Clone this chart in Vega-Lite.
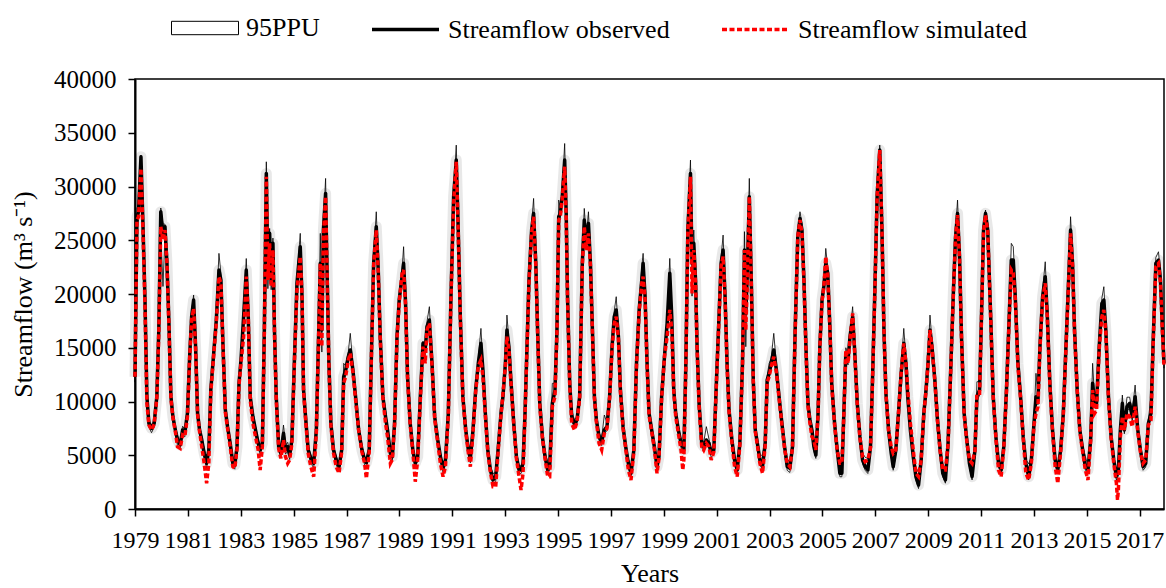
{
"$schema": "https://vega.github.io/schema/vega-lite/v6.json",
"width": 1029, "height": 430,
"autosize": {"type": "none"},
"padding": {"left": 135, "top": 79, "right": 2, "bottom": 79},
"background": "white",
"config": {"view": {"stroke": "black", "strokeWidth": 1.5}, "font": "Liberation Serif",
  "legend": {"orient": "none", "direction": "horizontal", "title": null, "labelOffset": 7, "symbolSize": 4489, "padding": 0,
    "labelLimit": 500, "labelFont": "Liberation Serif", "labelFontSize": 26, "labelColor": "black", "symbolOpacity": 1}},
"data": {"values": [
{"m":0,"o":12300,"s":12300,"u":12900,"l":11800},
{"m":0.9,"o":27190,"s":26880,"u":28000,"l":26300},
{"m":1.6,"o":27650,"s":27190,"u":28300,"l":26900},
{"m":2.7,"o":32770,"s":31680,"u":32900,"l":31500},
{"m":3.6,"o":26570,"s":25950,"u":27200,"l":25800},
{"m":4.5,"o":19750,"s":19130,"u":20300,"l":19000},
{"m":5.4,"o":10450,"s":9830,"u":10900,"l":9700},
{"m":6.3,"o":7970,"s":7810,"u":8300,"l":7600},
{"m":7.5,"o":7500,"s":7350,"u":7800,"l":7100},
{"m":8.7,"o":7970,"s":7900,"u":8300,"l":7600},
{"m":9.9,"o":10450,"s":10300,"u":10900,"l":10000},
{"m":10.8,"o":16650,"s":16400,"u":17200,"l":16000},
{"m":11.7,"o":27650,"s":26260,"u":28000,"l":26000},
{"m":12.7,"o":25500,"s":25000,"u":26500,"l":20700},
{"m":13.6,"o":26260,"s":25950,"u":26500,"l":25500},
{"m":14.5,"o":22850,"s":22850,"u":23400,"l":22300},
{"m":15.4,"o":17270,"s":17000,"u":17800,"l":16800},
{"m":16.3,"o":10450,"s":10300,"u":10900,"l":10000},
{"m":17.2,"o":8590,"s":8500,"u":8900,"l":8200},
{"m":18.3,"o":7350,"s":7200,"u":7700,"l":7000},
{"m":19.3,"o":6420,"s":5800,"u":6800,"l":5900},
{"m":20.5,"o":5950,"s":5640,"u":6300,"l":5600},
{"m":21.6,"o":7350,"s":6880,"u":7700,"l":6900},
{"m":22.6,"o":7040,"s":6730,"u":7400,"l":6700},
{"m":23.8,"o":8900,"s":8590,"u":9300,"l":8500},
{"m":24.8,"o":14170,"s":14000,"u":14700,"l":13700},
{"m":25.7,"o":17890,"s":17600,"u":18400,"l":17300},
{"m":26.6,"o":19440,"s":18660,"u":19900,"l":18800},
{"m":27.5,"o":15100,"s":14900,"u":15600,"l":14600},
{"m":28.4,"o":8900,"s":8800,"u":9300,"l":8500},
{"m":29.3,"o":7350,"s":7190,"u":7700,"l":7000},
{"m":30.3,"o":6420,"s":5800,"u":6800,"l":6000},
{"m":31.4,"o":5180,"s":4250,"u":5600,"l":4800},
{"m":32.5,"o":4250,"s":2400,"u":4700,"l":3800},
{"m":33.5,"o":5490,"s":4250,"u":5900,"l":5100},
{"m":34.4,"o":11070,"s":10800,"u":11500,"l":10600},
{"m":35.6,"o":14170,"s":14000,"u":14600,"l":13700},
{"m":36.9,"o":17580,"s":17300,"u":18100,"l":17000},
{"m":38.1,"o":22230,"s":21610,"u":23780,"l":21500},
{"m":39.0,"o":21300,"s":21000,"u":21900,"l":20700},
{"m":39.9,"o":15410,"s":15200,"u":15900,"l":14900},
{"m":41.0,"o":9210,"s":9000,"u":9600,"l":8800},
{"m":42.0,"o":7660,"s":7500,"u":8000,"l":7300},
{"m":43.2,"o":6110,"s":5800,"u":6500,"l":5800},
{"m":44.4,"o":4250,"s":3940,"u":4700,"l":3900},
{"m":45.3,"o":4090,"s":3780,"u":4500,"l":3700},
{"m":46.3,"o":5800,"s":5600,"u":6200,"l":5400},
{"m":47.2,"o":11690,"s":11500,"u":12100,"l":11200},
{"m":48.1,"o":13860,"s":13550,"u":14300,"l":13400},
{"m":49.3,"o":17890,"s":16030,"u":18400,"l":17300},
{"m":50.5,"o":22230,"s":21610,"u":23300,"l":21600},
{"m":51.4,"o":17890,"s":17890,"u":18400,"l":17300},
{"m":52.3,"o":10450,"s":10140,"u":10900,"l":10000},
{"m":53.5,"o":8590,"s":7970,"u":9000,"l":8200},
{"m":54.7,"o":7350,"s":6730,"u":7700,"l":7000},
{"m":55.9,"o":6110,"s":5490,"u":6500,"l":5700},
{"m":56.8,"o":5490,"s":3630,"u":5900,"l":5100},
{"m":57.8,"o":6110,"s":5800,"u":6500,"l":5700},
{"m":58.7,"o":16650,"s":16400,"u":17200,"l":16000},
{"m":59.6,"o":31220,"s":30910,"u":32300,"l":30500},
{"m":60.3,"o":22230,"s":21300,"u":23000,"l":20500},
{"m":61.1,"o":25640,"s":24710,"u":26100,"l":25000},
{"m":61.8,"o":20990,"s":20680,"u":21600,"l":20400},
{"m":62.6,"o":24710,"s":24090,"u":25200,"l":24100},
{"m":63.3,"o":16650,"s":16400,"u":17200,"l":16100},
{"m":64.1,"o":10450,"s":10200,"u":10900,"l":10000},
{"m":65.2,"o":5800,"s":5600,"u":6200,"l":5400},
{"m":66.2,"o":5180,"s":4710,"u":5600,"l":4800},
{"m":67.4,"o":7040,"s":6420,"u":7810,"l":6700},
{"m":68.3,"o":5490,"s":4870,"u":5900,"l":5100},
{"m":69.3,"o":5800,"s":4250,"u":6200,"l":5400},
{"m":70.2,"o":5020,"s":4560,"u":5400,"l":4600},
{"m":71.2,"o":6420,"s":6110,"u":6800,"l":6000},
{"m":72.3,"o":13550,"s":13300,"u":14000,"l":13100},
{"m":73.5,"o":20990,"s":20370,"u":21500,"l":20400},
{"m":75.0,"o":24400,"s":23470,"u":25640,"l":23800},
{"m":75.8,"o":19750,"s":19750,"u":20300,"l":19200},
{"m":76.5,"o":11070,"s":10900,"u":11500,"l":10600},
{"m":77.4,"o":8590,"s":8400,"u":8900,"l":8200},
{"m":78.6,"o":5490,"s":5180,"u":5900,"l":5100},
{"m":79.8,"o":4710,"s":3940,"u":5000,"l":4300},
{"m":81.1,"o":4250,"s":3010,"u":4600,"l":3800},
{"m":82.3,"o":7350,"s":7100,"u":7700,"l":6900},
{"m":83.2,"o":15100,"s":14800,"u":15600,"l":14600},
{"m":84.1,"o":22850,"s":22850,"u":25640,"l":22300},
{"m":84.8,"o":16650,"s":15100,"u":17200,"l":14600},
{"m":85.5,"o":25950,"s":25330,"u":26500,"l":25300},
{"m":86.5,"o":29360,"s":29050,"u":30750,"l":28700},
{"m":87.1,"o":22850,"s":22850,"u":23400,"l":22300},
{"m":88.0,"o":13550,"s":13400,"u":14000,"l":13100},
{"m":88.9,"o":7970,"s":7800,"u":8300,"l":7600},
{"m":90.1,"o":5490,"s":5180,"u":5900,"l":5100},
{"m":91.3,"o":4560,"s":3940,"u":4900,"l":4100},
{"m":92.6,"o":3940,"s":3320,"u":4300,"l":3500},
{"m":93.8,"o":5490,"s":5300,"u":5900,"l":5100},
{"m":94.7,"o":12310,"s":11690,"u":13550,"l":11900},
{"m":95.6,"o":12930,"s":12310,"u":13300,"l":12400},
{"m":96.8,"o":14170,"s":13860,"u":14600,"l":13700},
{"m":97.7,"o":14790,"s":14480,"u":16340,"l":14300},
{"m":98.9,"o":12930,"s":12700,"u":13400,"l":12400},
{"m":100.1,"o":10450,"s":10200,"u":10900,"l":10000},
{"m":101.5,"o":7350,"s":7350,"u":7700,"l":7000},
{"m":103.0,"o":5490,"s":5300,"u":5900,"l":5100},
{"m":104.2,"o":4560,"s":4250,"u":4900,"l":4100},
{"m":105.0,"o":4300,"s":2850,"u":4700,"l":3900},
{"m":106.3,"o":5490,"s":5300,"u":5900,"l":5100},
{"m":107.2,"o":13550,"s":13300,"u":14000,"l":13100},
{"m":108.3,"o":22850,"s":22600,"u":23400,"l":22300},
{"m":109.5,"o":26260,"s":25950,"u":27650,"l":25600},
{"m":110.4,"o":22230,"s":22000,"u":22800,"l":21700},
{"m":111.3,"o":16030,"s":15800,"u":16500,"l":15600},
{"m":112.5,"o":10450,"s":10300,"u":10900,"l":10000},
{"m":113.7,"o":8590,"s":7970,"u":9200,"l":8200},
{"m":114.6,"o":7350,"s":6730,"u":7700,"l":7000},
{"m":115.9,"o":5180,"s":4250,"u":5600,"l":4800},
{"m":116.8,"o":4870,"s":4600,"u":5300,"l":4500},
{"m":117.8,"o":7970,"s":7800,"u":8300,"l":7600},
{"m":118.9,"o":16030,"s":15800,"u":16500,"l":15600},
{"m":119.9,"o":19440,"s":19130,"u":19900,"l":19000},
{"m":121.2,"o":21610,"s":21920,"u":22200,"l":21100},
{"m":121.9,"o":22850,"s":22230,"u":24400,"l":22300},
{"m":122.8,"o":19130,"s":18900,"u":19600,"l":18700},
{"m":123.7,"o":12310,"s":12100,"u":12800,"l":11900},
{"m":124.9,"o":7970,"s":7800,"u":8300,"l":7600},
{"m":126.1,"o":5490,"s":5300,"u":5900,"l":5100},
{"m":127.2,"o":4250,"s":2540,"u":4600,"l":3900},
{"m":128.3,"o":4870,"s":4600,"u":5300,"l":4500},
{"m":129.5,"o":10450,"s":10200,"u":10900,"l":10000},
{"m":130.7,"o":15410,"s":15100,"u":15600,"l":14900},
{"m":131.7,"o":14790,"s":13550,"u":15200,"l":14300},
{"m":132.5,"o":16960,"s":16650,"u":17400,"l":16500},
{"m":133.6,"o":17580,"s":17270,"u":18820,"l":17100},
{"m":134.8,"o":13550,"s":13300,"u":14000,"l":13100},
{"m":136.0,"o":8590,"s":8400,"u":8900,"l":8200},
{"m":137.4,"o":6420,"s":6110,"u":6800,"l":6000},
{"m":138.6,"o":4870,"s":4250,"u":5200,"l":4500},
{"m":139.8,"o":3780,"s":3010,"u":4100,"l":3400},
{"m":140.9,"o":4560,"s":3940,"u":4900,"l":4200},
{"m":142.2,"o":8900,"s":8700,"u":9300,"l":8500},
{"m":143.4,"o":19750,"s":19500,"u":20300,"l":19200},
{"m":144.6,"o":29050,"s":28430,"u":29600,"l":28400},
{"m":145.8,"o":32460,"s":32300,"u":33850,"l":31900},
{"m":146.7,"o":25950,"s":25700,"u":26500,"l":25400},
{"m":147.6,"o":18200,"s":18000,"u":18700,"l":17700},
{"m":148.8,"o":10450,"s":10300,"u":10900,"l":10000},
{"m":150.1,"o":7350,"s":7200,"u":7700,"l":7000},
{"m":151.3,"o":5490,"s":5180,"u":5900,"l":5100},
{"m":152.2,"o":4710,"s":3940,"u":5000,"l":4300},
{"m":153.4,"o":7350,"s":7100,"u":7700,"l":7000},
{"m":154.6,"o":11070,"s":10900,"u":11500,"l":10600},
{"m":155.8,"o":13550,"s":13300,"u":14000,"l":13100},
{"m":157.0,"o":15410,"s":13860,"u":16800,"l":14900},
{"m":157.9,"o":12930,"s":12310,"u":13400,"l":12400},
{"m":159.0,"o":8900,"s":8700,"u":9300,"l":8500},
{"m":160.1,"o":5490,"s":5300,"u":5900,"l":5100},
{"m":161.3,"o":3630,"s":3400,"u":4000,"l":3300},
{"m":162.5,"o":2700,"s":2080,"u":3300,"l":2300},
{"m":163.7,"o":3010,"s":2080,"u":3400,"l":2600},
{"m":164.9,"o":5800,"s":5600,"u":6200,"l":5400},
{"m":166.1,"o":8900,"s":8700,"u":9300,"l":8500},
{"m":167.0,"o":10450,"s":10760,"u":11000,"l":10000},
{"m":168.1,"o":13550,"s":13300,"u":14000,"l":13100},
{"m":168.8,"o":16650,"s":16030,"u":18040,"l":16100},
{"m":169.7,"o":15100,"s":14790,"u":15600,"l":14600},
{"m":170.6,"o":12000,"s":11800,"u":12400,"l":11600},
{"m":171.9,"o":7970,"s":7800,"u":8300,"l":7600},
{"m":173.1,"o":4870,"s":4700,"u":5300,"l":4500},
{"m":174.3,"o":3630,"s":3010,"u":4000,"l":3300},
{"m":175.2,"o":3630,"s":1770,"u":4000,"l":3300},
{"m":176.1,"o":4250,"s":3320,"u":4600,"l":3900},
{"m":177.0,"o":8900,"s":8700,"u":9300,"l":8500},
{"m":177.9,"o":15100,"s":14900,"u":15600,"l":14600},
{"m":178.8,"o":21300,"s":21000,"u":21800,"l":20800},
{"m":180.0,"o":25950,"s":25700,"u":26500,"l":25400},
{"m":180.9,"o":27500,"s":27190,"u":28890,"l":27000},
{"m":181.9,"o":22850,"s":22600,"u":23400,"l":22300},
{"m":182.8,"o":16030,"s":15800,"u":16500,"l":15600},
{"m":183.7,"o":9830,"s":9600,"u":10200,"l":9400},
{"m":184.9,"o":6730,"s":6600,"u":7100,"l":6400},
{"m":186.1,"o":4870,"s":4700,"u":5300,"l":4500},
{"m":187.3,"o":3630,"s":3010,"u":4400,"l":3300},
{"m":188.2,"o":3940,"s":3010,"u":4300,"l":3600},
{"m":189.4,"o":9830,"s":9520,"u":11690,"l":9400},
{"m":190.6,"o":11070,"s":10450,"u":11690,"l":10600},
{"m":191.5,"o":16650,"s":16400,"u":17200,"l":16100},
{"m":192.3,"o":27190,"s":26880,"u":28740,"l":26700},
{"m":193.0,"o":27500,"s":27190,"u":28000,"l":27000},
{"m":193.9,"o":29050,"s":28800,"u":29600,"l":28500},
{"m":195.0,"o":32460,"s":31840,"u":34000,"l":31900},
{"m":195.7,"o":27500,"s":26880,"u":28000,"l":27000},
{"m":196.3,"o":19750,"s":19500,"u":20300,"l":19200},
{"m":197.3,"o":11690,"s":11500,"u":12100,"l":11200},
{"m":198.2,"o":8590,"s":7970,"u":9200,"l":8200},
{"m":199.4,"o":7970,"s":7350,"u":8300,"l":7600},
{"m":200.6,"o":8280,"s":8100,"u":8600,"l":7900},
{"m":201.8,"o":10450,"s":10300,"u":10900,"l":10000},
{"m":203.0,"o":22850,"s":22600,"u":23400,"l":22300},
{"m":203.9,"o":26880,"s":26260,"u":27960,"l":26300},
{"m":204.8,"o":24710,"s":24090,"u":25200,"l":24100},
{"m":205.8,"o":26570,"s":25640,"u":27650,"l":25900},
{"m":206.7,"o":22850,"s":22600,"u":23400,"l":22300},
{"m":207.6,"o":16650,"s":16400,"u":17200,"l":16100},
{"m":208.5,"o":10450,"s":10300,"u":10900,"l":10000},
{"m":209.4,"o":8280,"s":8100,"u":8600,"l":7900},
{"m":210.6,"o":6730,"s":6110,"u":7100,"l":6400},
{"m":211.8,"o":6260,"s":5490,"u":6600,"l":5900},
{"m":213.0,"o":7350,"s":7040,"u":8740,"l":7000},
{"m":214.2,"o":7660,"s":7500,"u":8000,"l":7300},
{"m":215.4,"o":10450,"s":10300,"u":10900,"l":10000},
{"m":216.5,"o":15100,"s":14900,"u":15600,"l":14600},
{"m":217.5,"o":17890,"s":17270,"u":18400,"l":17300},
{"m":218.4,"o":18510,"s":17890,"u":19750,"l":18000},
{"m":219.4,"o":16030,"s":15800,"u":16500,"l":15600},
{"m":220.3,"o":11070,"s":10900,"u":11500,"l":10600},
{"m":221.5,"o":7660,"s":7500,"u":8000,"l":7300},
{"m":222.7,"o":5800,"s":5600,"u":6200,"l":5400},
{"m":223.9,"o":4250,"s":3630,"u":4700,"l":3900},
{"m":225.1,"o":3320,"s":2700,"u":3700,"l":3000},
{"m":226.4,"o":5490,"s":5300,"u":5900,"l":5100},
{"m":227.6,"o":13550,"s":13300,"u":14000,"l":13100},
{"m":228.8,"o":18510,"s":18300,"u":19000,"l":18000},
{"m":230.0,"o":21300,"s":20990,"u":22500,"l":20800},
{"m":230.6,"o":22850,"s":21610,"u":23780,"l":21500},
{"m":231.5,"o":19750,"s":19500,"u":20300,"l":19200},
{"m":232.4,"o":13550,"s":13300,"u":14000,"l":13100},
{"m":233.3,"o":8900,"s":8700,"u":9300,"l":8500},
{"m":234.5,"o":7350,"s":7200,"u":7700,"l":7000},
{"m":235.7,"o":5800,"s":5600,"u":6200,"l":5400},
{"m":236.9,"o":3940,"s":3320,"u":4300,"l":3600},
{"m":237.8,"o":4870,"s":4700,"u":5300,"l":4500},
{"m":239.0,"o":10450,"s":10300,"u":10900,"l":10000},
{"m":240.3,"o":14170,"s":14170,"u":14600,"l":13700},
{"m":241.5,"o":17270,"s":16030,"u":17800,"l":16800},
{"m":242.7,"o":21920,"s":18510,"u":23310,"l":18200},
{"m":243.6,"o":17890,"s":16650,"u":18400,"l":16400},
{"m":244.5,"o":11070,"s":10900,"u":11500,"l":10600},
{"m":245.4,"o":8900,"s":8590,"u":9300,"l":8500},
{"m":246.6,"o":7350,"s":7040,"u":7700,"l":7000},
{"m":247.8,"o":6110,"s":5490,"u":6500,"l":5700},
{"m":248.6,"o":5800,"s":3630,"u":6200,"l":5400},
{"m":249.1,"o":5490,"s":4560,"u":5900,"l":5100},
{"m":250.0,"o":13550,"s":13300,"u":14000,"l":13100},
{"m":250.9,"o":25950,"s":25700,"u":26500,"l":25400},
{"m":252.1,"o":31220,"s":30910,"u":32460,"l":30700},
{"m":252.8,"o":22850,"s":20060,"u":23400,"l":19800},
{"m":253.6,"o":24710,"s":24090,"u":25950,"l":24100},
{"m":254.4,"o":21300,"s":21000,"u":21800,"l":20800},
{"m":255.1,"o":15100,"s":14900,"u":15600,"l":14600},
{"m":256.0,"o":9830,"s":9600,"u":10200,"l":9400},
{"m":257.2,"o":6110,"s":5800,"u":6500,"l":5700},
{"m":258.1,"o":5800,"s":5490,"u":6200,"l":5400},
{"m":259.3,"o":6420,"s":6110,"u":7660,"l":6000},
{"m":260.5,"o":6110,"s":5800,"u":6500,"l":5700},
{"m":261.5,"o":5180,"s":4560,"u":5600,"l":4800},
{"m":262.7,"o":5490,"s":5300,"u":5900,"l":5100},
{"m":263.9,"o":12000,"s":11800,"u":12400,"l":11600},
{"m":265.1,"o":18200,"s":18000,"u":18700,"l":17700},
{"m":266.0,"o":22850,"s":22600,"u":23400,"l":22300},
{"m":266.9,"o":24090,"s":23470,"u":25480,"l":23500},
{"m":267.8,"o":19750,"s":19500,"u":20300,"l":19200},
{"m":268.7,"o":13550,"s":13300,"u":14000,"l":13100},
{"m":269.6,"o":9210,"s":9000,"u":9600,"l":8800},
{"m":270.9,"o":6420,"s":6200,"u":6800,"l":6000},
{"m":272.1,"o":4560,"s":3940,"u":5000,"l":4200},
{"m":273.3,"o":3630,"s":3010,"u":4000,"l":3300},
{"m":274.5,"o":6110,"s":5900,"u":6500,"l":5700},
{"m":275.7,"o":13550,"s":13300,"u":14000,"l":13100},
{"m":276.6,"o":24090,"s":24090,"u":25800,"l":23500},
{"m":277.2,"o":18200,"s":16650,"u":18700,"l":15100},
{"m":277.8,"o":21300,"s":20370,"u":21800,"l":20300},
{"m":278.8,"o":29050,"s":29050,"u":30750,"l":28500},
{"m":279.7,"o":21300,"s":21000,"u":21800,"l":20800},
{"m":280.6,"o":12000,"s":11800,"u":12400,"l":11600},
{"m":281.5,"o":7350,"s":7200,"u":7700,"l":7000},
{"m":282.7,"o":5800,"s":5600,"u":6200,"l":5400},
{"m":283.6,"o":4560,"s":4250,"u":5000,"l":4200},
{"m":284.8,"o":3940,"s":3320,"u":5000,"l":3600},
{"m":286.0,"o":6110,"s":5900,"u":6500,"l":5700},
{"m":286.9,"o":12000,"s":11800,"u":12400,"l":11600},
{"m":287.8,"o":12620,"s":12310,"u":13550,"l":12200},
{"m":288.7,"o":13550,"s":13240,"u":14000,"l":13100},
{"m":289.9,"o":14790,"s":14170,"u":16340,"l":14300},
{"m":291.1,"o":12930,"s":12700,"u":13400,"l":12400},
{"m":292.3,"o":10450,"s":10300,"u":10900,"l":10000},
{"m":293.6,"o":7970,"s":7800,"u":8300,"l":7600},
{"m":294.8,"o":5800,"s":5600,"u":6200,"l":5400},
{"m":296.0,"o":3940,"s":4250,"u":4700,"l":3600},
{"m":297.2,"o":3780,"s":3940,"u":4300,"l":3400},
{"m":298.4,"o":5800,"s":5700,"u":6200,"l":5400},
{"m":299.6,"o":16650,"s":16400,"u":17200,"l":16100},
{"m":300.8,"o":25330,"s":25330,"u":25900,"l":24800},
{"m":301.8,"o":27030,"s":26880,"u":27650,"l":26500},
{"m":302.7,"o":25950,"s":25640,"u":26500,"l":25400},
{"m":303.6,"o":21300,"s":21000,"u":21800,"l":20800},
{"m":304.5,"o":15100,"s":14900,"u":15600,"l":14600},
{"m":305.4,"o":9830,"s":9600,"u":10200,"l":9400},
{"m":306.3,"o":8280,"s":7970,"u":8900,"l":7900},
{"m":307.2,"o":7350,"s":6730,"u":7700,"l":7000},
{"m":308.1,"o":5800,"s":6420,"u":6600,"l":5400},
{"m":309.0,"o":5020,"s":5490,"u":5800,"l":4700},
{"m":310.0,"o":8900,"s":8800,"u":9300,"l":8500},
{"m":310.8,"o":15100,"s":15000,"u":15600,"l":14600},
{"m":311.8,"o":19440,"s":19300,"u":19900,"l":19000},
{"m":312.6,"o":20680,"s":20600,"u":21200,"l":20200},
{"m":313.5,"o":22850,"s":23470,"u":24240,"l":22300},
{"m":314.4,"o":21920,"s":21700,"u":22400,"l":21400},
{"m":315.3,"o":17270,"s":17100,"u":17800,"l":16800},
{"m":316.2,"o":11690,"s":11500,"u":12100,"l":11200},
{"m":317.5,"o":7970,"s":7800,"u":8300,"l":7600},
{"m":318.7,"o":5490,"s":5400,"u":5900,"l":5100},
{"m":319.9,"o":3320,"s":4250,"u":4500,"l":3000},
{"m":320.8,"o":3320,"s":4250,"u":4500,"l":3000},
{"m":321.7,"o":8900,"s":8800,"u":9300,"l":8500},
{"m":322.6,"o":14480,"s":14790,"u":15000,"l":14000},
{"m":323.6,"o":13860,"s":13550,"u":14300,"l":13400},
{"m":324.5,"o":16030,"s":15720,"u":16500,"l":15600},
{"m":325.7,"o":17890,"s":18200,"u":18820,"l":17400},
{"m":326.6,"o":14790,"s":14600,"u":15200,"l":14300},
{"m":327.8,"o":9830,"s":9700,"u":10200,"l":9400},
{"m":329.0,"o":6730,"s":6600,"u":7100,"l":6400},
{"m":330.2,"o":4560,"s":4870,"u":5200,"l":4200},
{"m":331.4,"o":3940,"s":4400,"u":4800,"l":3600},
{"m":332.6,"o":3630,"s":4560,"u":4700,"l":3300},
{"m":333.8,"o":5800,"s":5700,"u":6200,"l":5400},
{"m":334.7,"o":12000,"s":11800,"u":12400,"l":11600},
{"m":335.7,"o":19750,"s":19600,"u":20300,"l":19200},
{"m":336.8,"o":29050,"s":29000,"u":29600,"l":28500},
{"m":338.0,"o":33390,"s":33390,"u":33850,"l":32900},
{"m":339.0,"o":25950,"s":25900,"u":26500,"l":25400},
{"m":339.9,"o":16650,"s":16600,"u":17200,"l":16100},
{"m":340.8,"o":10760,"s":10700,"u":11200,"l":10300},
{"m":342.0,"o":7350,"s":7300,"u":7700,"l":7000},
{"m":343.2,"o":5180,"s":5800,"u":6000,"l":4800},
{"m":344.1,"o":3940,"s":5180,"u":5300,"l":3600},
{"m":345.3,"o":5490,"s":5500,"u":5900,"l":5100},
{"m":346.5,"o":8900,"s":8900,"u":9300,"l":8500},
{"m":347.7,"o":12620,"s":12600,"u":13100,"l":12200},
{"m":348.9,"o":15410,"s":15410,"u":16800,"l":14900},
{"m":349.9,"o":13550,"s":13500,"u":14000,"l":13100},
{"m":350.7,"o":10450,"s":11070,"u":11300,"l":10000},
{"m":351.9,"o":7350,"s":7970,"u":8200,"l":7000},
{"m":353.2,"o":4870,"s":5490,"u":5700,"l":4500},
{"m":354.4,"o":3010,"s":3320,"u":3900,"l":2700},
{"m":355.6,"o":2230,"s":3010,"u":3400,"l":1900},
{"m":356.8,"o":4560,"s":4600,"u":5000,"l":4200},
{"m":358.0,"o":8900,"s":8900,"u":9300,"l":8500},
{"m":359.0,"o":11070,"s":11000,"u":11500,"l":10600},
{"m":359.9,"o":13550,"s":13500,"u":14000,"l":13100},
{"m":360.8,"o":16650,"s":16650,"u":18040,"l":16100},
{"m":361.7,"o":15100,"s":15000,"u":15600,"l":14600},
{"m":363.0,"o":12000,"s":11900,"u":12400,"l":11600},
{"m":364.2,"o":8280,"s":8200,"u":8600,"l":7900},
{"m":365.4,"o":5490,"s":5400,"u":5900,"l":5100},
{"m":366.6,"o":3320,"s":3630,"u":4200,"l":3000},
{"m":367.8,"o":2700,"s":3630,"u":3800,"l":2400},
{"m":369.0,"o":6110,"s":6000,"u":6500,"l":5700},
{"m":370.3,"o":13550,"s":13400,"u":14000,"l":13100},
{"m":371.5,"o":20680,"s":20500,"u":21200,"l":20200},
{"m":372.4,"o":25330,"s":25200,"u":25900,"l":24800},
{"m":373.3,"o":27500,"s":27340,"u":28740,"l":27000},
{"m":374.2,"o":23470,"s":23300,"u":24000,"l":23000},
{"m":375.1,"o":16030,"s":15900,"u":16500,"l":15600},
{"m":376.3,"o":8900,"s":8800,"u":9300,"l":8500},
{"m":377.5,"o":6420,"s":6300,"u":6800,"l":6000},
{"m":378.7,"o":4250,"s":4560,"u":4900,"l":3900},
{"m":379.9,"o":3010,"s":4250,"u":4400,"l":2700},
{"m":381.2,"o":5490,"s":5400,"u":5900,"l":5100},
{"m":382.1,"o":10450,"s":10760,"u":11840,"l":10000},
{"m":383.3,"o":11070,"s":10760,"u":11840,"l":10600},
{"m":384.2,"o":18200,"s":18000,"u":18700,"l":17700},
{"m":385.1,"o":25950,"s":25800,"u":26500,"l":25400},
{"m":386.0,"o":27500,"s":27340,"u":27810,"l":27000},
{"m":387.0,"o":25950,"s":25800,"u":26500,"l":25400},
{"m":388.3,"o":18200,"s":18000,"u":18700,"l":17700},
{"m":389.5,"o":10450,"s":10300,"u":10900,"l":10000},
{"m":390.7,"o":6730,"s":6600,"u":7100,"l":6400},
{"m":391.9,"o":4250,"s":3630,"u":4600,"l":3900},
{"m":393.1,"o":3630,"s":3010,"u":4000,"l":3300},
{"m":394.3,"o":5800,"s":5700,"u":6200,"l":5400},
{"m":395.5,"o":11070,"s":10900,"u":11500,"l":10600},
{"m":396.8,"o":18200,"s":18000,"u":18700,"l":17700},
{"m":397.7,"o":23160,"s":22230,"u":24710,"l":22500},
{"m":398.6,"o":23160,"s":21920,"u":24400,"l":22500},
{"m":399.5,"o":19750,"s":19500,"u":20300,"l":19200},
{"m":400.7,"o":13550,"s":13300,"u":14000,"l":13100},
{"m":401.9,"o":10450,"s":10300,"u":10900,"l":10000},
{"m":403.1,"o":6730,"s":6600,"u":7100,"l":6400},
{"m":404.3,"o":4250,"s":3320,"u":4600,"l":3900},
{"m":405.6,"o":3010,"s":2700,"u":4200,"l":2700},
{"m":406.8,"o":4560,"s":4250,"u":4900,"l":4200},
{"m":408.0,"o":7970,"s":7800,"u":8300,"l":7600},
{"m":408.9,"o":10450,"s":8900,"u":12620,"l":10000},
{"m":409.8,"o":10140,"s":9520,"u":10600,"l":9700},
{"m":410.7,"o":15100,"s":14900,"u":15600,"l":14600},
{"m":411.9,"o":19750,"s":19500,"u":20300,"l":19200},
{"m":413.1,"o":21610,"s":20990,"u":23000,"l":21000},
{"m":414.0,"o":18200,"s":18000,"u":18700,"l":17700},
{"m":415.2,"o":11690,"s":11500,"u":12100,"l":11200},
{"m":416.4,"o":7350,"s":7200,"u":7700,"l":7000},
{"m":417.6,"o":4560,"s":3940,"u":5000,"l":4200},
{"m":418.8,"o":3630,"s":2400,"u":4000,"l":3300},
{"m":420.1,"o":5490,"s":5300,"u":5900,"l":5100},
{"m":421.3,"o":8900,"s":8700,"u":9300,"l":8500},
{"m":422.5,"o":15100,"s":14900,"u":15600,"l":14600},
{"m":423.7,"o":21300,"s":21000,"u":21800,"l":20800},
{"m":424.6,"o":25950,"s":25640,"u":27190,"l":25400},
{"m":425.5,"o":22850,"s":22600,"u":23400,"l":22300},
{"m":426.4,"o":16650,"s":16400,"u":17200,"l":16100},
{"m":427.6,"o":11070,"s":11070,"u":12300,"l":10600},
{"m":428.8,"o":7350,"s":7200,"u":7700,"l":7000},
{"m":430.1,"o":5490,"s":5300,"u":5900,"l":5100},
{"m":431.3,"o":3940,"s":3630,"u":4900,"l":3600},
{"m":432.5,"o":3630,"s":2700,"u":4000,"l":3300},
{"m":433.7,"o":6420,"s":6300,"u":6800,"l":6000},
{"m":434.6,"o":11690,"s":11070,"u":13550,"l":11200},
{"m":435.5,"o":9830,"s":8900,"u":10300,"l":9400},
{"m":436.4,"o":9830,"s":9210,"u":10300,"l":9400},
{"m":437.6,"o":15100,"s":14900,"u":15600,"l":14600},
{"m":438.8,"o":19130,"s":17890,"u":19600,"l":18600},
{"m":439.7,"o":19440,"s":18510,"u":20680,"l":18900},
{"m":440.6,"o":16650,"s":16400,"u":17200,"l":16100},
{"m":441.8,"o":10450,"s":10300,"u":10900,"l":10000},
{"m":443.0,"o":6730,"s":6600,"u":7100,"l":6400},
{"m":444.2,"o":4560,"s":4250,"u":4900,"l":4200},
{"m":445.4,"o":3010,"s":2390,"u":3400,"l":2700},
{"m":445.9,"o":3300,"s":840,"u":3700,"l":2900},
{"m":446.3,"o":3630,"s":1770,"u":4000,"l":3300},
{"m":447.2,"o":7350,"s":6730,"u":7700,"l":7000},
{"m":448.1,"o":9830,"s":8590,"u":10600,"l":9400},
{"m":449.0,"o":7350,"s":7350,"u":7700,"l":7000},
{"m":450.2,"o":9520,"s":8900,"u":10400,"l":9100},
{"m":451.4,"o":9830,"s":8590,"u":10400,"l":9400},
{"m":452.6,"o":8590,"s":7660,"u":9000,"l":8200},
{"m":453.9,"o":10450,"s":9520,"u":11530,"l":10000},
{"m":455.1,"o":7350,"s":7200,"u":7700,"l":7000},
{"m":456.3,"o":5490,"s":5300,"u":5900,"l":5100},
{"m":457.5,"o":3940,"s":4250,"u":4600,"l":3600},
{"m":458.7,"o":4250,"s":4560,"u":4800,"l":3900},
{"m":459.9,"o":7970,"s":7800,"u":8300,"l":7600},
{"m":461.1,"o":8900,"s":8280,"u":10450,"l":8500},
{"m":462.0,"o":15100,"s":14900,"u":15600,"l":14600},
{"m":463.3,"o":22850,"s":22540,"u":23400,"l":22300},
{"m":464.5,"o":23160,"s":22850,"u":23930,"l":22600},
{"m":465.4,"o":21300,"s":21000,"u":21800,"l":20800},
{"m":466.3,"o":16650,"s":16400,"u":17200,"l":16100},
{"m":467.0,"o":13550,"s":13300,"u":14000,"l":13100}
]},
"encoding": {
  "x": {"field": "m", "type": "quantitative",
    "scale": {"domain": [0, 467], "nice": false, "zero": false},
    "axis": {"title": "Years", "values": [0,24,48,72,96,120,144,168,192,216,240,264,288,312,336,360,384,408,432,456],
      "labelExpr": "1979 + datum.value/12", "grid": false, "domainColor": "black", "domainWidth": 2,
      "tickColor": "black", "tickSize": 7, "tickWidth": 1.5, "labelFont": "Liberation Serif", "labelFontSize": 24,
      "labelColor": "black", "labelPadding": 12, "labelFlush": false, "labelOverlap": false, "labelBound": false,
      "titleFont": "Liberation Serif", "titleFontSize": 26, "titleFontWeight": "normal", "titleColor": "black", "titlePadding": 8}}
},
"layer": [
  {"mark": {"type": "line", "color": "#000000", "strokeWidth": 11, "opacity": 0.09, "strokeJoin": "round"},
   "encoding": {"y": {"field": "o", "type": "quantitative", "title": "Streamflow (m³ s⁻¹)",
     "scale": {"domain": [0, 40000], "nice": false},
     "axis": {"values": [0,5000,10000,15000,20000,25000,30000,35000,40000], "format": "d", "grid": false,
       "domainColor": "black", "domainWidth": 2, "tickColor": "black", "tickSize": 7, "tickWidth": 1.5,
       "labelFont": "Liberation Serif", "labelFontSize": 25, "labelColor": "black", "labelPadding": 12,
       "titleFont": "Liberation Serif", "titleFontSize": 26, "titleFontWeight": "normal", "titleColor": "black", "titlePadding": 17}}}},
  {"mark": {"type": "area", "stroke": "black", "strokeWidth": 0.8, "fillOpacity": 1},
   "encoding": {"y": {"field": "u", "type": "quantitative", "title": "Streamflow (m³ s⁻¹)"}, "y2": {"field": "l"},
     "fill": {"datum": "95PPU", "type": "nominal",
       "scale": {"domain": ["95PPU"], "range": ["#ffffff"]},
       "legend": {"legendX": 36, "legendY": -85, "symbolType": "M-1,-0.2H1V0.2H-1Z",
         "symbolStrokeColor": "black", "symbolStrokeWidth": 1, "symbolFillColor": "#ffffff"}}}},
  {"mark": {"type": "line", "strokeWidth": 3.5, "strokeJoin": "round"},
   "encoding": {"y": {"field": "o", "type": "quantitative", "title": "Streamflow (m³ s⁻¹)"},
     "stroke": {"datum": "Streamflow observed", "type": "nominal",
       "scale": {"domain": ["Streamflow observed"], "range": ["#000000"]},
       "legend": {"legendX": 235, "legendY": -85, "symbolType": "stroke", "symbolStrokeWidth": 3.5}}}},
  {"mark": {"type": "line", "strokeWidth": 3.5, "color": "#ff0000", "strokeCap": "butt"},
   "encoding": {"y": {"field": "s", "type": "quantitative", "title": "Streamflow (m³ s⁻¹)"},
     "strokeDash": {"datum": "Streamflow simulated", "type": "nominal",
       "scale": {"domain": ["Streamflow simulated"], "range": [[5, 2.5]]},
       "legend": {"legendX": 585, "legendY": -85, "symbolType": "stroke", "symbolStrokeWidth": 3.5, "symbolStrokeColor": "#ff0000"}}}}
]
}
